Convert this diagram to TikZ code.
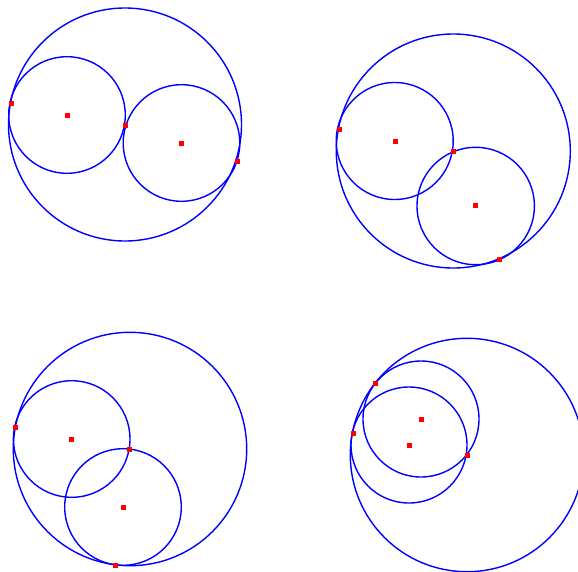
\documentclass[tikz,border=0pt]{standalone}
\begin{document}
\begin{tikzpicture}[x = 1pt, y = -1pt,
  ring/.style = {draw = blue, line width = 1.4pt},
  reddot/.style = {fill = red, inner sep = 0pt, minimum size = 5pt}]
\useasboundingbox (0,0) rectangle (578,571);
% top left
\draw[ring] (125,124.5) circle [radius = 116.5];
\draw[ring] (67,115) circle [radius = 58.3];
\draw[ring] (181.5,143) circle [radius = 58.3];
\node[reddot] at (67,115) (a1) {};
\node[reddot] at (181.3,143.3) (a2) {};
\node[reddot] at (11,103) (a3) {};
\node[reddot] at (125,125.3) (a4) {};
\node[reddot] at (237.7,161.3) (a5) {};
% top right
\draw[ring] (453.3,151) circle [radius = 117];
\draw[ring] (394.7,141) circle [radius = 58.5];
\draw[ring] (475.7,206) circle [radius = 58.7];
\node[reddot] at (395,141.3) (b1) {};
\node[reddot] at (475.3,205.3) (b2) {};
\node[reddot] at (339,129.3) (b3) {};
\node[reddot] at (453,151.3) (b4) {};
\node[reddot] at (499,259.7) (b5) {};
% bottom left
\draw[ring] (130,449) circle [radius = 116.7];
\draw[ring] (71.7,439) circle [radius = 58.3];
\draw[ring] (123,507) circle [radius = 58.3];
\node[reddot] at (71,439) (c1) {};
\node[reddot] at (123.3,507.3) (c2) {};
\node[reddot] at (15,427.3) (c3) {};
\node[reddot] at (129.3,449) (c4) {};
\node[reddot] at (115,565.7) (c5) {};
% bottom right
\draw[ring] (467,455) circle [radius = 116.7];
\draw[ring] (421,419) circle [radius = 58];
\draw[ring] (409,445) circle [radius = 58];
\node[reddot] at (421.3,419.3) (d1) {};
\node[reddot] at (409,445.3) (d2) {};
\node[reddot] at (375,383) (d3) {};
\node[reddot] at (353.3,433) (d4) {};
\node[reddot] at (467.3,455) (d5) {};
\end{tikzpicture}
\end{document}
